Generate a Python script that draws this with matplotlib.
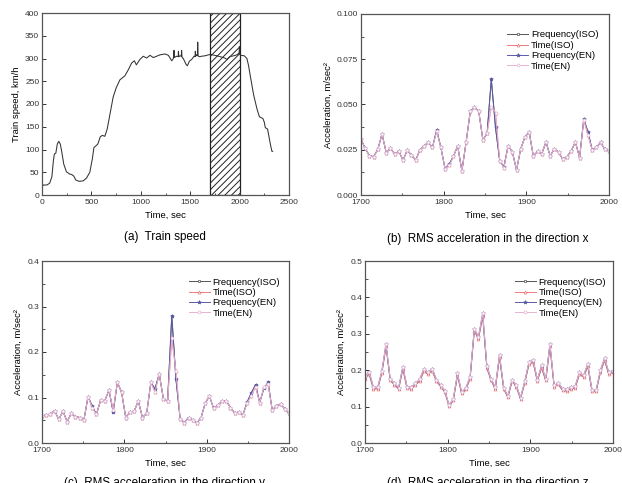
import numpy as np
import matplotlib
matplotlib.use("Agg")
import matplotlib.pyplot as plt
from matplotlib.ticker import MultipleLocator, FormatStrFormatter

plt.rcParams['font.family'] = ['Liberation Sans', 'DejaVu Sans']
plt.rcParams['hatch.linewidth'] = 0.7

# (a) train speed trace, time [s] / speed [km/h]
speed_t = [0, 15, 50, 78, 100, 115, 125, 140, 155, 170, 185, 200, 220, 247, 281, 300, 320,
           342, 375, 416, 450, 484, 510, 525, 545, 565, 590, 610, 636, 660, 690, 720, 750,
           788, 839, 873, 907, 935, 955, 991, 1025, 1059, 1093, 1127, 1160, 1194, 1245, 1279,
           1313, 1330, 1336, 1340, 1360, 1378, 1381, 1385, 1400, 1410, 1413, 1417, 1430, 1445,
           1458, 1471, 1492, 1515, 1539, 1549, 1552, 1556, 1565, 1573, 1576, 1580, 1590, 1617,
           1651, 1702, 1769, 1820, 1850, 1871, 1900, 1940, 1972, 1995, 1998, 2002, 2010, 2047,
           2074, 2090, 2108, 2142, 2175, 2200, 2236, 2250, 2260, 2283, 2300, 2311, 2327, 2335]
speed_v = [18, 22, 22, 26, 40, 75, 90, 92, 112, 118, 112, 95, 68, 51, 46, 45, 42,
           33, 30, 31, 37, 50, 80, 104, 108, 112, 128, 131, 129, 145, 180, 215, 235,
           253, 262, 275, 290, 295, 286, 298, 305, 301, 307, 302, 305, 308, 310, 307,
           295, 300, 318, 302, 305, 304, 316, 304, 306, 305, 318, 303, 300, 293,
           287, 284, 294, 298, 305, 304, 316, 305, 308, 306, 336, 306, 304, 305,
           306, 309, 306, 303, 301, 298, 304, 306, 308, 312, 326, 309, 307, 306,
           300, 285, 262, 220, 190, 172, 168, 160, 148, 145, 125, 112, 96, 96]
window = (1700, 2000)

# RMS acceleration, 60 samples between 1700 s and 2000 s
acc_time = np.linspace(1700, 2000, 60)

x_freq = [0.0308, 0.0258, 0.0217, 0.0212, 0.0252, 0.0337, 0.0234, 0.0258, 0.0227, 0.0241,
          0.0193, 0.0247, 0.0221, 0.0192, 0.0249, 0.0271, 0.0291, 0.0263, 0.0359, 0.0263,
          0.0145, 0.0171, 0.0215, 0.0271, 0.0133, 0.0291, 0.0462, 0.0484, 0.0464, 0.0304,
          0.0341, 0.0639, 0.0374, 0.0188, 0.0156, 0.0272, 0.0239, 0.0138, 0.0256, 0.0320,
          0.0348, 0.0215, 0.0241, 0.0227, 0.0293, 0.0215, 0.0256, 0.0236, 0.0197, 0.0212,
          0.0243, 0.0293, 0.0206, 0.0420, 0.0348, 0.0249, 0.0263, 0.0291, 0.0252, 0.0245]
x_time = [0.0308, 0.0258, 0.0217, 0.0210, 0.0252, 0.0337, 0.0234, 0.0258, 0.0227, 0.0241,
          0.0193, 0.0247, 0.0221, 0.0192, 0.0249, 0.0271, 0.0291, 0.0263, 0.0352, 0.0263,
          0.0145, 0.0163, 0.0215, 0.0271, 0.0133, 0.0291, 0.0462, 0.0484, 0.0464, 0.0304,
          0.0341, 0.0488, 0.0455, 0.0188, 0.0150, 0.0272, 0.0239, 0.0138, 0.0256, 0.0320,
          0.0348, 0.0215, 0.0241, 0.0227, 0.0293, 0.0215, 0.0256, 0.0236, 0.0197, 0.0212,
          0.0243, 0.0293, 0.0206, 0.0415, 0.0330, 0.0249, 0.0263, 0.0291, 0.0252, 0.0245]

y_freq = [0.059, 0.062, 0.063, 0.071, 0.052, 0.070, 0.047, 0.065, 0.058, 0.056,
          0.050, 0.102, 0.081, 0.063, 0.094, 0.093, 0.116, 0.068, 0.133, 0.112,
          0.056, 0.068, 0.070, 0.092, 0.056, 0.065, 0.133, 0.119, 0.152, 0.097,
          0.092, 0.280, 0.140, 0.053, 0.045, 0.056, 0.051, 0.044, 0.056, 0.088,
          0.103, 0.076, 0.083, 0.092, 0.093, 0.078, 0.066, 0.068, 0.062, 0.090,
          0.110, 0.128, 0.089, 0.120, 0.133, 0.072, 0.082, 0.085, 0.075, 0.065]
y_time = [0.059, 0.062, 0.063, 0.071, 0.052, 0.070, 0.047, 0.065, 0.058, 0.056,
          0.050, 0.102, 0.078, 0.063, 0.094, 0.093, 0.116, 0.072, 0.133, 0.112,
          0.056, 0.068, 0.070, 0.092, 0.056, 0.065, 0.133, 0.112, 0.152, 0.097,
          0.092, 0.230, 0.158, 0.053, 0.045, 0.056, 0.051, 0.044, 0.056, 0.088,
          0.103, 0.076, 0.083, 0.092, 0.093, 0.078, 0.066, 0.068, 0.062, 0.088,
          0.104, 0.124, 0.089, 0.122, 0.130, 0.072, 0.082, 0.085, 0.075, 0.065]

z_iso = [0.177, 0.189, 0.149, 0.149, 0.192, 0.266, 0.172, 0.160, 0.148, 0.204,
         0.151, 0.149, 0.160, 0.170, 0.197, 0.189, 0.198, 0.170, 0.155, 0.140,
         0.101, 0.117, 0.186, 0.136, 0.147, 0.177, 0.308, 0.287, 0.348, 0.206,
         0.172, 0.149, 0.236, 0.148, 0.126, 0.170, 0.154, 0.122, 0.165, 0.216,
         0.222, 0.170, 0.207, 0.172, 0.266, 0.154, 0.161, 0.145, 0.143, 0.149,
         0.151, 0.189, 0.181, 0.211, 0.142, 0.142, 0.195, 0.227, 0.189, 0.195]
z_en = [0.183, 0.196, 0.153, 0.153, 0.197, 0.272, 0.176, 0.164, 0.152, 0.210,
        0.155, 0.153, 0.164, 0.175, 0.203, 0.194, 0.204, 0.174, 0.159, 0.144,
        0.104, 0.121, 0.191, 0.140, 0.151, 0.182, 0.314, 0.292, 0.357, 0.211,
        0.176, 0.153, 0.243, 0.152, 0.129, 0.174, 0.158, 0.125, 0.169, 0.222,
        0.229, 0.174, 0.213, 0.176, 0.273, 0.158, 0.165, 0.149, 0.147, 0.154,
        0.156, 0.194, 0.186, 0.217, 0.146, 0.146, 0.200, 0.233, 0.194, 0.199]

series_names = ['Frequency(ISO)', 'Time(ISO)', 'Frequency(EN)', 'Time(EN)']
series_colors = ['#555555', '#f07a7a', '#5a5aa8', '#e6b4d2']
series_markers = ['s', '^', '*', 'o']

spine_col = '#555555'
tick_fs = 6
label_fs = 6.8


def style_axes(ax):
    for s in ax.spines.values():
        s.set_color(spine_col)
        s.set_linewidth(0.9)
    ax.tick_params(direction='in', which='both', top=False, right=False,
                   labelsize=tick_fs, colors='#333333', pad=2)
    ax.tick_params(axis='x', pad=3)
    ax.tick_params(which='major', length=3, width=0.7)
    ax.tick_params(which='minor', length=1.8, width=0.6)
    ax.set_xlabel('Time, sec', fontsize=label_fs, labelpad=3)


def acc_panel(ax, series, ymax, ystep, fmt, leg_xy):
    for vals, name, col, mk in zip(series, series_names, series_colors, series_markers):
        ax.plot(acc_time, vals, color=col, lw=0.7, marker=mk, ms=2.1 if mk != '*' else 2.8,
                mfc='white' if mk != '*' else col, mec=col, mew=0.5, label=name)
    ax.set_xlim(1700, 2000)
    ax.set_ylim(0, ymax)
    ax.xaxis.set_major_locator(MultipleLocator(100))
    ax.xaxis.set_minor_locator(MultipleLocator(50))
    ax.yaxis.set_major_locator(MultipleLocator(ystep))
    ax.yaxis.set_minor_locator(MultipleLocator(ystep / 2))
    ax.yaxis.set_major_formatter(FormatStrFormatter(fmt))
    ax.set_ylabel('Acceleration, m/sec²', fontsize=label_fs, labelpad=3)
    style_axes(ax)
    ax.legend(loc='upper left', bbox_to_anchor=leg_xy, frameon=False, fontsize=6.8,
              handlelength=2.2, handletextpad=0.3, labelspacing=0.15, borderaxespad=0)


fig = plt.figure(figsize=(6.22, 4.83), dpi=100)
W, H = 622, 483


def add_ax(l, r, t, b):
    return fig.add_axes([l / W, 1 - b / H, (r - l) / W, (b - t) / H])


ax_a = add_ax(42, 289, 13, 195)
ax_b = add_ax(361, 609, 14, 195)
ax_c = add_ax(42, 289, 261, 443)
ax_d = add_ax(365, 613, 261, 443)

# (a)
ax_a.axvspan(window[0], window[1], facecolor='white', edgecolor='#222222',
             hatch='/////', lw=0.9, zorder=1)
ax_a.plot(speed_t, speed_v, color='#333333', lw=0.75, zorder=2)
ax_a.set_xlim(0, 2500)
ax_a.set_ylim(0, 400)
ax_a.xaxis.set_major_locator(MultipleLocator(500))
ax_a.xaxis.set_minor_locator(MultipleLocator(250))
ax_a.yaxis.set_major_locator(MultipleLocator(50))
ax_a.set_ylabel('Train speed, km/h', fontsize=label_fs, labelpad=3)
style_axes(ax_a)

acc_panel(ax_b, [x_freq, x_time, x_freq, x_time], 0.1, 0.025, '%.3f', (0.575, 0.93))
acc_panel(ax_c, [y_freq, y_time, y_freq, y_time], 0.4, 0.1, '%.1f', (0.58, 0.93))
acc_panel(ax_d, [z_iso, z_iso, z_en, z_en], 0.5, 0.1, '%.1f', (0.59, 0.93))

title_fs = 8.4
fig.text(165 / W, 1 - 237 / H, '(a)  Train speed', ha='center', va='center', fontsize=title_fs)
fig.text(488 / W, 1 - 239 / H, '(b)  RMS acceleration in the direction x', ha='center',
         va='center', fontsize=title_fs)
fig.text(165 / W, 1 - 477 / H, '(c)  RMS acceleration in the direction y', ha='center',
         va='top', fontsize=title_fs)
fig.text(488 / W, 1 - 477 / H, '(d)  RMS acceleration in the direction z', ha='center',
         va='top', fontsize=title_fs)

fig.savefig('out.png', dpi=100)
